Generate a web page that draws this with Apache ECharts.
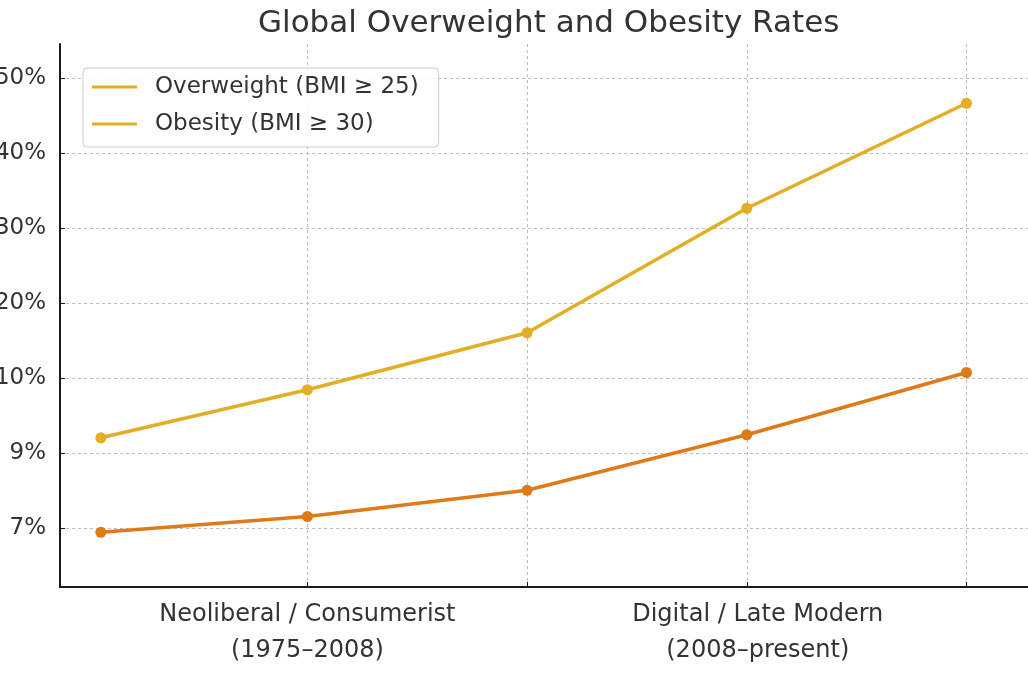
<!DOCTYPE html>
<html>
<head>
<meta charset="utf-8">
<script src="https://cdn.jsdelivr.net/npm/echarts@6/dist/echarts.min.js"></script>
<style>
html,body{margin:0;padding:0;background:#fff;}
#c{width:1028px;height:673px;}
</style>
</head>
<body>
<div id="c"></div>
<script>
// Data (y values in axis-tick units: 0 = "7%" tick, 1 = "9%", 2 = "10%", ...)
const seriesNames = ['Overweight (BMI ≥ 25)', 'Obesity (BMI ≥ 30)'];
const xPositions = [0.06, 1, 2, 3, 4];
const overweight = [1.21, 1.85, 2.61, 4.27, 5.67];
const obesity = [-0.05, 0.16, 0.51, 1.25, 2.08];
const yTickLabels = ['7%', '9%', '10%', '20%', '30%', '40%', '50%'];
const yTickValues = [0, 1, 2, 3, 4, 5, 6];
const xTickValues = [1, 2, 3, 4];
const xLabelValues = [1, 3.05];
const xLabels = ['Neoliberal / Consumerist\n(1975–2008)', 'Digital / Late Modern\n(2008–present)'];

const FONT = 'DejaVu Sans';
const YELLOW = '#e2ad27';
const ORANGE = '#df7a1a';
const TEXT = '#333333';

const chart = echarts.init(document.getElementById('c'), null, {renderer: 'canvas'});
const gridLine = {show: true, lineStyle: {color: '#bdbdbd', width: 1, type: [3, 3]}};

chart.setOption({
  backgroundColor: '#ffffff',
  animation: false,
  title: {
    text: 'Global Overweight and Obesity Rates',
    left: 258, top: 8, padding: 0,
    textStyle: {fontFamily: FONT, fontSize: 31, fontWeight: 'normal', color: TEXT}
  },
  legend: {
    orient: 'vertical', left: 83, top: 68,
    backgroundColor: 'rgba(255,255,255,0.85)',
    borderColor: '#cccccc', borderWidth: 1, borderRadius: 4,
    padding: [6, 20, 10, 9],
    itemWidth: 45, itemHeight: 3, itemGap: 11, icon: 'rect',
    textStyle: {fontFamily: FONT, fontSize: 23, color: TEXT, lineHeight: 26, padding: [0, 0, 0, 13]},
    data: [
      {name: seriesNames[0], itemStyle: {color: YELLOW}},
      {name: seriesNames[1], itemStyle: {color: YELLOW}}
    ]
  },
  grid: {left: 60, right: 0, top: 44, bottom: 86, containLabel: false, outerBoundsMode: 'none'},
  xAxis: {
    type: 'value', min: -0.126, max: 4.28,
    axisLine: {show: true, onZero: false, lineStyle: {color: '#1a1a1a', width: 2}},
    axisTick: {show: true, inside: true, length: 5, customValues: xTickValues, lineStyle: {color: '#1a1a1a', width: 1}},
    axisLabel: {
      customValues: xLabelValues,
      margin: 10, fontFamily: FONT, fontSize: 24, color: TEXT, lineHeight: 36, align: 'center',
      formatter: function (v) {
        const i = xLabelValues.indexOf(v);
        return i >= 0 ? xLabels[i] : '';
      }
    },
    splitLine: gridLine
  },
  yAxis: {
    type: 'value', min: -0.78, max: 6.46,
    axisLine: {show: true, onZero: false, lineStyle: {color: '#1a1a1a', width: 2}},
    axisTick: {show: true, inside: true, length: 5, customValues: yTickValues, lineStyle: {color: '#1a1a1a', width: 1}},
    axisLabel: {
      customValues: yTickValues,
      margin: 14, fontFamily: FONT, fontSize: 23, color: TEXT,
      formatter: function (v) { return yTickLabels[Math.round(v)]; }
    },
    splitLine: gridLine
  },
  series: [
    {
      name: seriesNames[0], type: 'line',
      data: xPositions.map((x, i) => [x, overweight[i]]),
      symbol: 'circle', symbolSize: 11,
      lineStyle: {color: YELLOW, width: 3.5},
      itemStyle: {color: YELLOW}
    },
    {
      name: seriesNames[1], type: 'line',
      data: xPositions.map((x, i) => [x, obesity[i]]),
      symbol: 'circle', symbolSize: 11,
      lineStyle: {color: ORANGE, width: 3.5},
      itemStyle: {color: ORANGE}
    }
  ]
});
</script>
</body>
</html>
